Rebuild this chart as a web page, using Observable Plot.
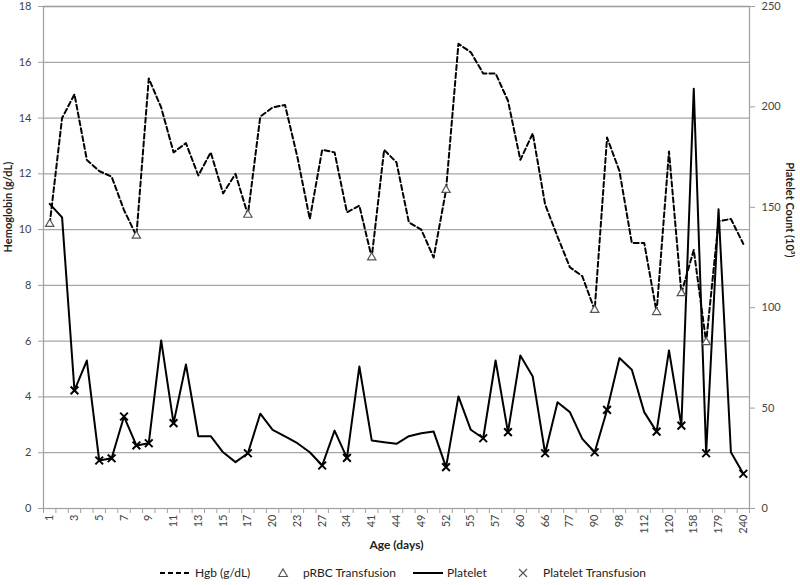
<!DOCTYPE html>
<html><head><meta charset="utf-8">
<script src="https://cdn.jsdelivr.net/npm/d3@7"></script>
<script src="https://cdn.jsdelivr.net/npm/@observablehq/plot@0.6"></script>
<style>
body{margin:0;background:#fff;font-family:Lato,sans-serif;}
#chart{width:800px;height:585px;}
#chart svg{display:block;}
</style></head><body><div id="chart"></div>
<script>
const days = ["1","2","3","4","5","6","7","8","9","10","11","12","13","14","15","16","17","18","20","21","23","25","27","30","34","37","41","43","44","46","49","50","52","53","55","56","57","58","60","62","66","70","77","84","90","95","98","105","112","116","120","140","158","170","179","200","240"];
const hgb = [10.2,14.0,14.85,12.5,12.1,11.9,10.7,9.78,15.42,14.38,12.77,13.1,11.94,12.77,11.3,12.0,10.53,14.05,14.38,14.47,12.6,10.38,12.86,12.77,10.62,10.86,9.0,12.86,12.41,10.26,10.0,9.0,11.42,16.66,16.36,15.6,15.6,14.62,12.5,13.45,10.9,9.75,8.65,8.33,7.12,13.3,12.1,9.52,9.52,7.04,12.8,7.72,9.27,5.96,10.3,10.38,9.49];
const platelet = [151.7,145,58.8,73.7,23.9,25.0,45.8,31.4,32.5,83.7,42.5,71.7,36.0,36.0,28.0,23.1,27.5,47.2,39.2,35.9,32.5,28.0,21.4,38.8,25.2,70.7,33.9,33.0,32.2,36.0,37.5,38.3,20.6,55.8,39.2,35.0,73.7,38.0,76.2,65.7,27.5,52.9,48.0,34.7,28.0,49.1,74.9,69.1,48.0,38.3,78.7,41.3,209,27.5,149,28.0,17.3];
const prbcDays = ["1","8","17","41","52","90","116","140","170"];
const pltTxDays = ["3","5","6","7","8","9","11","17","27","34","52","56","58","66","90","95","116","140","170","240"];
const hgbTicks = [0,2,4,6,8,10,12,14,16,18];
const pltTicks = [0,50,100,150,200,250];
const labels = {x:"Age (days)", yLeft:"Hemoglobin (g/dL)", yRight:"Platelet Count (10³)"};
const legendItems = ["Hgb (g/dL)","pRBC Transfusion","Platelet","Platelet Transfusion"];

const k = 18/250;
const data = days.map((d,i)=>({day:d, hgb:hgb[i], plt:platelet[i]*k}));
const W=800,H=560,mL=43,mR=51,mT=6,mB=52;
const step=(W-mL-mR)/days.length;

const plot = Plot.plot({
  width:W,height:H,marginLeft:mL,marginRight:mR,marginTop:mT,marginBottom:mB,
  style:{fontFamily:"Lato, sans-serif",fontSize:"11px",background:"#fff",color:"#404040"},
  x:{type:"point",domain:days,padding:0.5,round:false,axis:null},
  y:{domain:[0,18],axis:null},
  marks:[
    Plot.ruleY(hgbTicks.filter(v=>v>0),{stroke:"#a6a6a6",strokeWidth:1.3}),
    Plot.frame({stroke:"#a0a0a0",strokeWidth:1.2}),
    Plot.axisY({ticks:hgbTicks,tickSize:5,tickPadding:7,stroke:"#a0a0a0",fill:"#444",label:null}),
    Plot.axisY(pltTicks.map(v=>v*k),{anchor:"right",tickFormat:d=>String(Math.round(d/k)),tickSize:5,tickPadding:7,stroke:"#a0a0a0",fill:"#444",label:null}),
    Plot.axisX(days,{tickSize:5,tickFormat:()=>"",dx:-step/2,stroke:"#a0a0a0",label:null}),
    Plot.axisX([days[days.length-1]],{tickSize:5,tickFormat:()=>"",dx:step/2,stroke:"#a0a0a0",label:null}),
    Plot.axisX(days.filter((d,i)=>i%2===0),{tickSize:0,tickPadding:6,tickRotate:-90,fill:"#444",label:null}),
    Plot.line(data,{x:"day",y:"hgb",stroke:"#000",strokeWidth:2,strokeDasharray:"5,3"}),
    Plot.line(data,{x:"day",y:"plt",stroke:"#000",strokeWidth:2}),
    Plot.dot(data.filter(d=>prbcDays.includes(d.day)),{x:"day",y:"hgb",symbol:"triangle",r:3.1,stroke:"#555",fill:"#fff",strokeWidth:1.2}),
    Plot.dot(data.filter(d=>pltTxDays.includes(d.day)),{x:"day",y:"plt",symbol:"times",r:3.6,stroke:"#000",strokeWidth:2}),
    Plot.text([labels.yLeft],{frameAnchor:"left",dx:-35,dy:-5,rotate:-90,fontWeight:"bold",fontSize:11,fill:"#222"}),
    Plot.text([labels.yRight],{frameAnchor:"right",dx:40,rotate:90,fontWeight:"bold",fontSize:11,fill:"#222"}),
    Plot.text([labels.x],{frameAnchor:"bottom",dy:40,fontWeight:"bold",fontSize:12,fill:"#222"})
  ]
});
const chart=document.getElementById("chart");
chart.appendChild(plot);

// legend
const lg=d3.select(chart).append("svg").attr("width",800).attr("height",25)
  .style("font-family","Lato, sans-serif").style("font-size","12px");
const ly=13;
lg.append("line").attr("x1",160).attr("x2",192).attr("y1",ly).attr("y2",ly).attr("stroke","#000").attr("stroke-width",2).attr("stroke-dasharray","5,3");
lg.append("text").attr("x",195).attr("y",ly+4).attr("fill","#222").text(legendItems[0]);
lg.append("path").attr("d",d3.symbol(d3.symbolTriangle,34)()).attr("transform",`translate(283,${ly+1})`).attr("fill","#fff").attr("stroke","#555").attr("stroke-width",1.1);
lg.append("text").attr("x",303).attr("y",ly+4).attr("fill","#222").text(legendItems[1]);
lg.append("line").attr("x1",413).attr("x2",443).attr("y1",ly).attr("y2",ly).attr("stroke","#000").attr("stroke-width",2);
lg.append("text").attr("x",447).attr("y",ly+4).attr("fill","#222").text(legendItems[2]);
lg.append("path").attr("d","M-4,-4L4,4M-4,4L4,-4").attr("transform",`translate(523,${ly})`).attr("stroke","#555").attr("stroke-width",1.1);
lg.append("text").attr("x",543).attr("y",ly+4).attr("fill","#222").text(legendItems[3]);
</script>
</body></html>
